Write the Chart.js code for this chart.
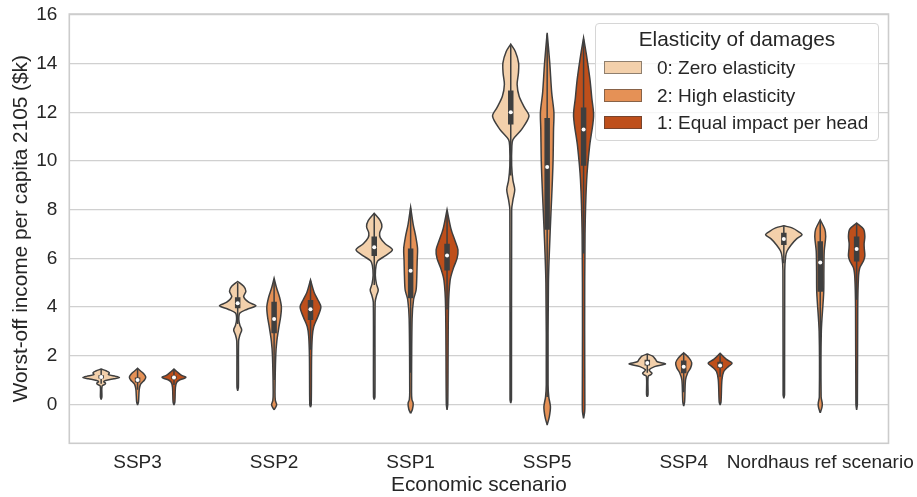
<!DOCTYPE html>
<html>
<head>
<meta charset="utf-8">
<script src="https://cdn.jsdelivr.net/npm/chart.js@4.4.1/dist/chart.umd.min.js"></script>
<style>
  html, body { margin: 0; padding: 0; background: #fff; }
  #wrap { position: relative; width: 917px; height: 497px; }
  #legend {
    position: absolute; left: 595px; top: 23px; width: 282px; height: 116px;
    background: rgba(255, 255, 255, 0.8); border: 1px solid #d6d6d6; border-radius: 4px;
    font-family: 'Liberation Sans', Arial, sans-serif; color: #262626;
  }
  #legend .title { position: absolute; left: 0; right: 0; top: 3px; text-align: center; font-size: 20.8px; line-height: 24px; }
  #legend .row { position: absolute; left: 8px; height: 22px; font-size: 19px; line-height: 22px; }
  #legend .patch { position: absolute; left: 0; top: 4px; width: 38px; height: 13px; border: 1px solid rgba(60, 60, 60, 0.55); box-sizing: border-box; }
  #legend .label { position: absolute; left: 53px; top: 0; white-space: nowrap; }
</style>
</head>
<body>
<div id="wrap">
  <canvas id="chart" width="917" height="497"></canvas>
  <div id="legend"></div>
</div>
<script>
const scenarios = ['SSP3', 'SSP2', 'SSP1', 'SSP5', 'SSP4', 'Nordhaus ref scenario']
const elasticities = ['0: Zero elasticity', '2: High elasticity', '1: Equal impact per head']
const fillColors = ['rgb(243,208,171)', 'rgb(229,145,86)', 'rgb(190,79,27)']
const yTicks = [0, 2, 4, 6, 8, 10, 12, 14, 16]

// violin outlines: [income, relative density width], bottom to top, one per elasticity
const ssp3Shapes = [
  [[0.2, 0], [0.3, 0.04], [0.75, 0.05], [0.82, 0.2], [0.87, 0.24], [0.93, 0.14], [0.98, 0.25], [1.05, 0.7], [1.1, 1.0], [1.15, 0.8], [1.22, 0.4], [1.3, 0.45], [1.37, 0.3], [1.45, 0]],
  [[-0.03, 0], [0.1, 0.05], [0.6, 0.09], [0.8, 0.15], [0.9, 0.25], [1.0, 0.38], [1.12, 0.45], [1.25, 0.35], [1.38, 0.15], [1.48, 0]],
  [[-0.03, 0], [0.1, 0.05], [0.7, 0.08], [0.9, 0.15], [1.0, 0.3], [1.08, 0.6], [1.12, 0.65], [1.2, 0.4], [1.35, 0.15], [1.45, 0]]
]
const ssp2Shapes = [
  [[0.56, 0], [0.7, 0.04], [2.6, 0.05], [2.85, 0.12], [3.06, 0.22], [3.25, 0.12], [3.5, 0.06], [3.75, 0.12], [3.9, 0.5], [4.05, 1.0], [4.2, 0.6], [4.42, 0.33], [4.65, 0.45], [4.85, 0.33], [5.05, 0]],
  [[-0.23, 0], [-0.1, 0.1], [0.0, 0.14], [0.15, 0.07], [0.5, 0.05], [2.0, 0.09], [2.6, 0.15], [3.2, 0.27], [3.6, 0.36], [4.0, 0.4], [4.4, 0.3], [4.8, 0.13], [5.18, 0]],
  [[-0.12, 0], [0.0, 0.04], [2.0, 0.06], [2.8, 0.1], [3.2, 0.18], [3.6, 0.4], [4.0, 0.57], [4.3, 0.4], [4.6, 0.2], [5.11, 0]]
]
const ssp1Shapes = [
  [[0.2, 0], [0.3, 0.04], [4.2, 0.05], [4.45, 0.12], [4.7, 0.22], [4.95, 0.12], [5.3, 0.06], [5.7, 0.1], [5.9, 0.2], [6.1, 0.6], [6.35, 1.0], [6.6, 0.6], [6.85, 0.33], [7.05, 0.3], [7.3, 0.42], [7.55, 0.33], [7.85, 0]],
  [[-0.37, 0], [-0.2, 0.1], [0.04, 0.14], [0.2, 0.07], [0.5, 0.05], [3.5, 0.08], [4.3, 0.16], [4.7, 0.3], [5.3, 0.34], [5.9, 0.36], [6.4, 0.38], [6.9, 0.28], [7.4, 0.14], [8.1, 0]],
  [[-0.23, 0], [0.0, 0.04], [4.0, 0.08], [5.1, 0.17], [5.6, 0.35], [6.0, 0.55], [6.35, 0.6], [6.7, 0.45], [7.2, 0.22], [8.0, 0]]
]
const ssp5Shapes = [
  [[0.05, 0], [0.2, 0.04], [8.0, 0.05], [8.4, 0.12], [8.82, 0.22], [9.2, 0.12], [9.8, 0.05], [10.6, 0.06], [10.88, 0.12], [11.3, 0.6], [11.84, 1.0], [12.2, 0.75], [12.66, 0.46], [13.14, 0.35], [13.6, 0.42], [14.03, 0.43], [14.5, 0.25], [14.8, 0]],
  [[-0.85, 0], [-0.5, 0.12], [-0.1, 0.18], [0.3, 0.09], [0.8, 0.05], [5.0, 0.07], [7.2, 0.17], [8.55, 0.25], [9.9, 0.32], [11.3, 0.35], [12.0, 0.37], [12.8, 0.25], [14.05, 0.14], [15.27, 0]],
  [[-0.58, 0], [-0.3, 0.06], [0, 0.07], [3, 0.06], [7, 0.08], [9.23, 0.17], [10.6, 0.33], [11.84, 0.55], [12.6, 0.45], [13.35, 0.35], [14.3, 0.17], [15.06, 0]]
]
const ssp4Shapes = [
  [[0.31, 0], [0.4, 0.04], [1.15, 0.05], [1.22, 0.2], [1.28, 0.26], [1.34, 0.18], [1.42, 0.1], [1.55, 0.4], [1.66, 1.0], [1.75, 0.55], [1.85, 0.45], [1.98, 0.3], [2.07, 0]],
  [[-0.07, 0], [0.1, 0.05], [1.0, 0.1], [1.3, 0.22], [1.5, 0.38], [1.71, 0.44], [1.9, 0.3], [2.12, 0]],
  [[-0.03, 0], [0.1, 0.05], [1.0, 0.1], [1.35, 0.2], [1.55, 0.45], [1.69, 0.66], [1.85, 0.35], [2.1, 0]]
]
const nordhausShapes = [
  [[0.25, 0], [0.4, 0.04], [5.5, 0.05], [6.07, 0.1], [6.3, 0.18], [6.55, 0.4], [6.8, 0.7], [6.97, 1.0], [7.1, 0.8], [7.25, 0.45], [7.34, 0]],
  [[-0.35, 0], [-0.1, 0.1], [0.05, 0.11], [0.3, 0.05], [3.0, 0.06], [4.6, 0.19], [5.5, 0.2], [6.3, 0.22], [6.9, 0.3], [7.2, 0.25], [7.58, 0]],
  [[-0.23, 0], [0.0, 0.04], [4.0, 0.06], [5.2, 0.1], [5.6, 0.17], [5.9, 0.38], [6.1, 0.45], [6.4, 0.42], [6.6, 0.41], [6.9, 0.45], [7.2, 0.38], [7.45, 0]]
]

// inner box: rows = scenarios, columns = elasticities
const medians = [[1.12, 1.0, 1.1], [4.15, 3.51, 3.91], [6.46, 5.49, 6.12], [12.0, 9.75, 11.29], [1.7, 1.55, 1.6], [6.79, 5.83, 6.38]]
const q1 = [[1.06, 0.9, 1.03], [3.95, 2.92, 3.47], [6.1, 4.36, 5.5], [11.5, 7.17, 9.8], [1.6, 1.28, 1.5], [6.55, 4.63, 5.87]]
const q3 = [[1.2, 1.1, 1.18], [4.4, 4.22, 4.29], [6.9, 6.4, 6.6], [12.9, 11.77, 12.2], [1.83, 1.8, 1.75], [7.05, 6.7, 6.9]]
const whiskerLow = [[0.85, 0.6, 0.8], [3.3, 1.0, 2.24], [4.9, 1.3, 3.9], [9.4, 0.3, 6.2], [1.3, 0.5, 1.13], [5.8, 1.5, 4.3]]
const whiskerHigh = [[1.42, 1.45, 1.42], [5.0, 5.15, 5.08], [7.85, 8.05, 7.95], [14.75, 15.2, 15.0], [2.05, 2.1, 2.08], [7.32, 7.55, 7.42]]

const shapes = [ssp3Shapes, ssp2Shapes, ssp1Shapes, ssp5Shapes, ssp4Shapes, nordhausShapes]
const hueOffset = [-0.8 / 3, 0, 0.8 / 3]
const halfWidth = 0.4 / 3
const lineColor = '#3f3f3f'
const textColor = '#262626'

Chart.defaults.font.family = "'Liberation Sans', Arial, sans-serif"
Chart.defaults.color = textColor

const datasets = []
const whiskers = []
const boxes = []
const dots = []
shapes.forEach((group, i) => {
  group.forEach((shape, j) => {
    const cx = i + hueOffset[j]
    const right = shape.map(([v, w]) => ({ x: cx + w * halfWidth, y: v }))
    const left = shape.slice().reverse().map(([v, w]) => ({ x: cx - w * halfWidth, y: v }))
    datasets.push({
      data: right.concat(left),
      showLine: true,
      fill: 'shape',
      backgroundColor: fillColors[j],
      borderColor: lineColor,
      borderWidth: 1.5,
      pointRadius: 0,
      tension: 0.3,
      order: 2
    })
    whiskers.push({ x: cx, y: whiskerLow[i][j] }, { x: cx, y: whiskerHigh[i][j] }, { x: cx, y: null })
    boxes.push({ x: cx, y: q1[i][j] }, { x: cx, y: q3[i][j] }, { x: cx, y: null })
    dots.push({ x: cx, y: medians[i][j] })
  })
})
datasets.push({ data: whiskers, showLine: true, borderColor: lineColor, borderWidth: 1.5, pointRadius: 0, tension: 0, order: 1 })
datasets.push({ data: boxes, showLine: true, borderColor: lineColor, borderWidth: 5.5, borderCapStyle: 'butt', pointRadius: 0, tension: 0, order: 1 })
datasets.push({ data: dots, showLine: false, pointRadius: 2, pointBackgroundColor: '#ffffff', pointBorderWidth: 0, order: 0 })

// light grey frame round the plot area
const frame = {
  id: 'frame',
  beforeDatasetsDraw(chart) {
    const { ctx, chartArea: a } = chart
    ctx.save()
    ctx.strokeStyle = '#cccccc'
    ctx.lineWidth = 1.6
    ctx.strokeRect(a.left, a.top, a.right - a.left, a.bottom - a.top)
    ctx.restore()
  }
}

new Chart(document.getElementById('chart'), {
  type: 'scatter',
  data: { datasets },
  plugins: [frame],
  options: {
    responsive: false,
    animation: false,
    events: [],
    layout: { padding: { left: 0, right: 28.5, top: 14, bottom: 0 } },
    plugins: { legend: { display: false }, tooltip: { enabled: false } },
    scales: {
      x: {
        type: 'linear',
        min: -0.5,
        max: 5.5,
        afterBuildTicks: axis => { axis.ticks = scenarios.map((s, i) => ({ value: i })) },
        afterFit: axis => {
          axis.height = 53.7
          axis.paddingLeft = 0
          axis.paddingRight = 0
        },
        ticks: { callback: v => scenarios[v], font: { size: 19 }, padding: 8, maxRotation: 0, autoSkip: false, color: textColor },
        grid: { display: false, drawTicks: false },
        border: { display: false },
        title: { display: true, text: 'Economic scenario', font: { size: 20.8, lineHeight: 1 }, padding: { top: 0, bottom: 1 }, color: textColor }
      },
      y: {
        min: -1.6,
        max: 16.04,
        afterBuildTicks: axis => { axis.ticks = yTicks.map(v => ({ value: v })) },
        afterFit: axis => {
          axis.width = 69.3
          axis.paddingTop = 0
          axis.paddingBottom = 0
        },
        ticks: { font: { size: 19 }, padding: 12, color: textColor },
        grid: { color: '#d0d0d0', lineWidth: 1.3, drawTicks: false },
        border: { display: false },
        title: { display: true, text: 'Worst-off income per capita 2105 ($k)', font: { size: 20.8, lineHeight: 1 }, padding: { top: 11, bottom: 0 }, color: textColor }
      }
    }
  }
})

// legend
const legend = document.getElementById('legend')
legend.innerHTML = '<div class="title">Elasticity of damages</div>'
elasticities.forEach((name, j) => {
  const row = document.createElement('div')
  row.className = 'row'
  row.style.top = (33 + j * 27.5) + 'px'
  row.innerHTML = '<span class="patch" style="background:' + fillColors[j] + '"></span><span class="label">' + name + '</span>'
  legend.appendChild(row)
})
</script>
</body>
</html>
